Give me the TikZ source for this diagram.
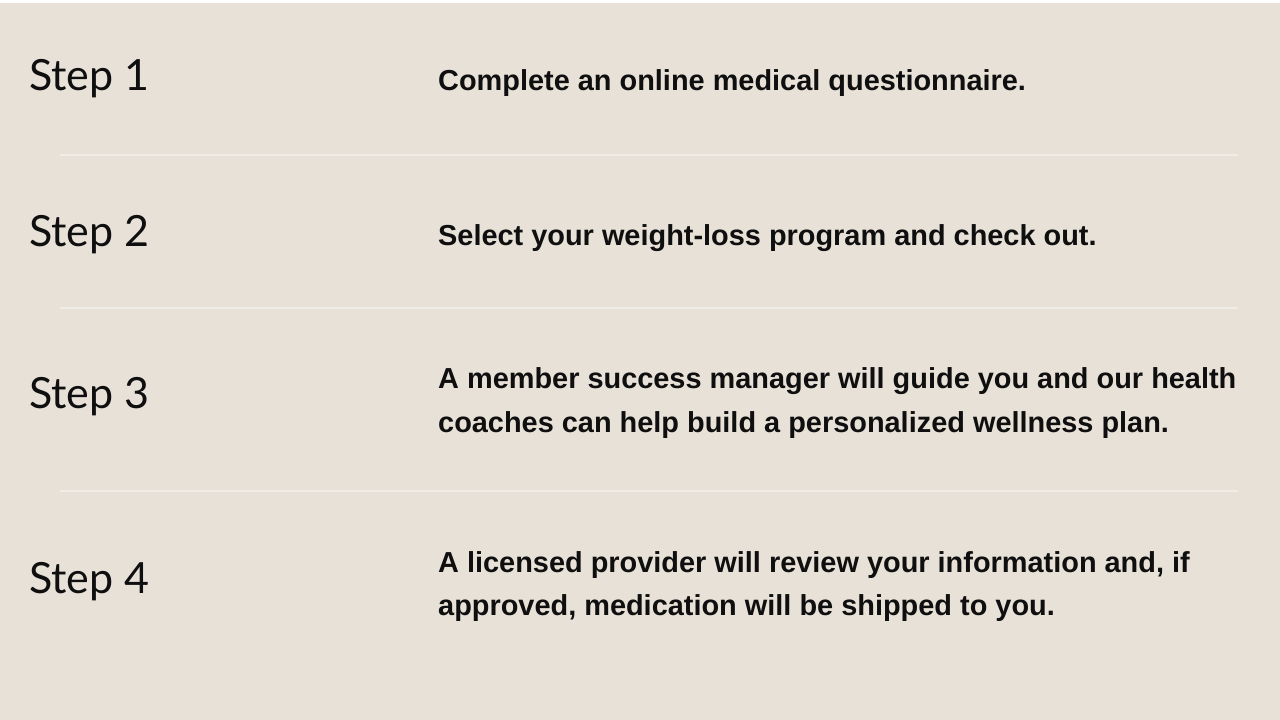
\documentclass[tikz,border=0pt]{standalone}
\usepackage{fontspec}
\setmainfont{Liberation Sans}
\newfontfamily\stepfont{Lato}
\definecolor{bgbeige}{HTML}{E8E1D8}
\definecolor{rulecol}{HTML}{F0ECE6}
\definecolor{inkcol}{HTML}{0F0F0F}
\begin{document}
\begin{tikzpicture}[x=1pt,y=1pt,
  steplabel/.style={anchor=base west,inner sep=0pt,text=inkcol,font=\stepfont\fontsize{43}{46}\selectfont},
  bodytext/.style={anchor=base west,inner sep=0pt,text=inkcol,font=\bfseries\fontsize{28.9}{44}\selectfont},
  divider/.style={draw=rulecol,line width=2pt}]
\useasboundingbox (0,0) rectangle (1280,-720);
\fill[white] (0,0) rectangle (1280,-4);
\fill[bgbeige] (0,-3) rectangle (1280,-720);
% dividers
\coordinate (d1a) at (60,-155); \coordinate (d1b) at (1238,-155);
\coordinate (d2a) at (60,-308); \coordinate (d2b) at (1238,-308);
\coordinate (d3a) at (60,-491); \coordinate (d3b) at (1238,-491);
\draw[divider] (d1a) -- (d1b);
\draw[divider] (d2a) -- (d2b);
\draw[divider] (d3a) -- (d3b);
% step labels
\node[steplabel] (s1) at (29,-90) {Step 1};
\node[steplabel] (s2) at (29,-246) {Step 2};
\node[steplabel] (s3) at (29,-408) {Step 3};
\node[steplabel] (s4) at (29,-593) {Step 4};
% texts
\node[bodytext] (t1) at (438,-90) {Complete an online medical questionnaire.};
\node[bodytext] (t2) at (438,-245) {Select your weight-loss program and check out.};
\node[bodytext] (t3a) at (438,-388) {A member success manager will guide you and our health};
\node[bodytext] (t3b) at (438,-432) {coaches can help build a personalized wellness plan.};
\node[bodytext] (t4a) at (438,-572) {A licensed provider will review your information and, if};
\node[bodytext] (t4b) at (438,-615) {approved, medication will be shipped to you.};
\end{tikzpicture}
\end{document}
